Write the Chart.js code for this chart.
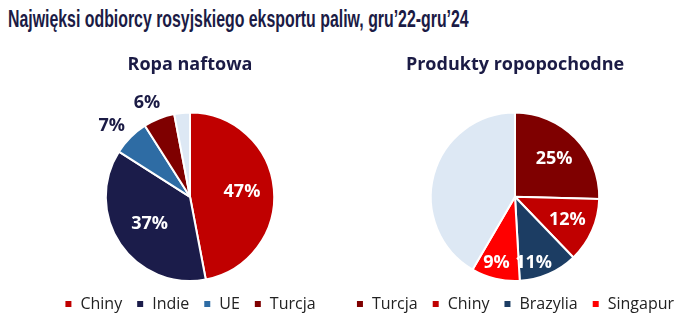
<!DOCTYPE html>
<html>
<head>
<meta charset="utf-8">
<script src="https://cdn.jsdelivr.net/npm/chart.js@4.4.1/dist/chart.umd.min.js"></script>
<style>
  body { margin: 0; background: #fff; width: 694px; height: 318px; position: relative; overflow: hidden; }
  h1 { position: absolute; left: 8px; top: 6px; margin: 0; font-family: "Liberation Sans", Arial, sans-serif; font-weight: bold; font-size: 23px; color: #1b1b45; white-space: nowrap; transform: scaleX(0.69); transform-origin: left top; }
  .box { position: absolute; top: 45px; width: 360px; height: 281px; }
</style>
</head>
<body>
<h1>Najwięksi odbiorcy rosyjskiego eksportu paliw, gru’22-gru’24</h1>
<div class="box" style="left:10px"><canvas id="crude-chart"></canvas></div>
<div class="box" style="left:335px"><canvas id="products-chart"></canvas></div>
<script>
// ropa naftowa (udział w %)
const crudeLabels = ['Chiny', 'Indie', 'UE', 'Turcja', 'Pozostałe'];
const crudeValues = [47, 37, 7, 6, 3];
const crudeColors = ['#c00000', '#1b1c4a', '#2e6ca4', '#7f0000', '#dde8f4'];

// produkty ropopochodne (udział w %)
const productLabels = ['Turcja', 'Chiny', 'Brazylia', 'Singapur', 'Pozostałe'];
const productValues = [25.4, 12.4, 11.3, 9.3, 41.6];
const productColors = ['#7f0000', '#c00000', '#1c3d63', '#ff0000', '#dde8f4'];

const navy = '#1b1b45';
const fontFamily = '"Open Sans", "Liberation Sans", Arial, sans-serif';

// rysuje procenty na wycinkach
const sliceLabels = {
  id: 'sliceLabels',
  afterDatasetsDraw(chart, args, opts) {
    const ctx = chart.ctx;
    const meta = chart.getDatasetMeta(0);
    const values = chart.data.datasets[0].data;
    meta.data.forEach((arc, i) => {
      if (!opts.show[i]) return;
      const p = arc.getProps(['x', 'y', 'startAngle', 'endAngle', 'outerRadius'], true);
      const mid = (p.startAngle + p.endAngle) / 2 + (opts.shift[i] || 0) * Math.PI / 180;
      const r = p.outerRadius * opts.radius[i];
      ctx.save();
      ctx.font = 'bold 18px ' + fontFamily;
      ctx.fillStyle = opts.colors[i];
      ctx.textAlign = 'center';
      ctx.textBaseline = 'middle';
      ctx.fillText(Math.round(values[i]) + '%', p.x + Math.cos(mid) * r, p.y + Math.sin(mid) * r);
      ctx.restore();
    });
  }
};

function makePie(id, title, labels, values, colors, labelOpts) {
  return new Chart(document.getElementById(id), {
    type: 'pie',
    data: {
      labels: labels,
      datasets: [{
        data: values,
        backgroundColor: colors,
        borderColor: '#ffffff',
        borderWidth: 2
      }]
    },
    options: {
      responsive: true,
      maintainAspectRatio: false,
      animation: false,
      layout: { padding: { bottom: 4 } },
      plugins: {
        title: {
          display: true,
          text: title,
          color: navy,
          font: { family: fontFamily, size: 18, weight: 'bold' },
          padding: { top: 9, bottom: 36 }
        },
        legend: {
          position: 'bottom',
          labels: {
            color: '#222',
            boxWidth: 8,
            boxHeight: 8,
            padding: 14,
            font: { family: fontFamily, size: 16 },
            filter: item => item.text !== 'Pozostałe'
          }
        },
        tooltip: { enabled: false },
        sliceLabels: labelOpts
      }
    },
    plugins: [sliceLabels]
  });
}

makePie('crude-chart', 'Ropa naftowa', crudeLabels, crudeValues, crudeColors, {
  show: [true, true, true, true, false],
  radius: [0.62, 0.58, 1.25, 1.23, 0],
  shift: [0, 0, -3, -3, 0],
  colors: ['#fff', '#fff', navy, navy, navy]
});

makePie('products-chart', 'Produkty ropopochodne', productLabels, productValues, productColors, {
  show: [true, true, true, true, false],
  radius: [0.65, 0.68, 0.82, 0.82, 0],
  shift: [0, 0, 8, 2, 0],
  colors: ['#fff', '#fff', '#fff', '#fff', navy]
});
</script>
</body>
</html>
